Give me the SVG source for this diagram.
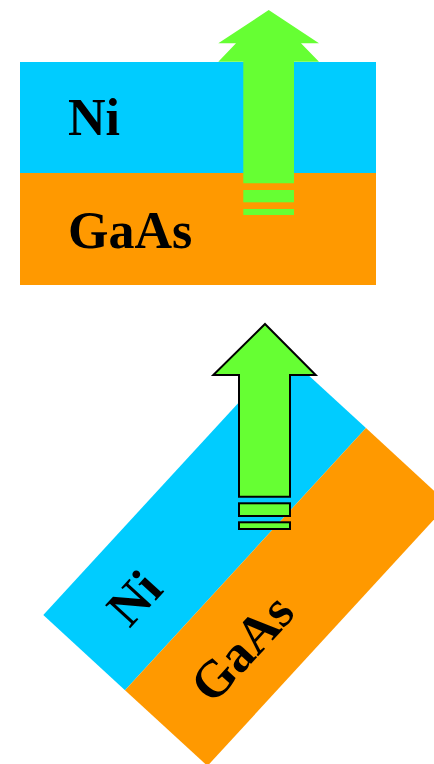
<svg xmlns="http://www.w3.org/2000/svg" width="434" height="764" viewBox="0 0 434 764">
<style>
.ni{fill:#00CCFF}
.ga{fill:#FF9900}
.ar{fill:#66FF33}
.ao{fill:#66FF33;stroke:#000;stroke-width:2}
.lb{font-family:"Liberation Serif","Times New Roman",serif;font-weight:bold;font-size:52px;fill:#000}
</style>
<g id="top-stack">
<rect class="ni" x="20" y="62" width="356" height="111"/>
<rect class="ga" x="20" y="173" width="356" height="112"/>
<text class="lb" x="68" y="135">Ni</text>
<text class="lb" x="68" y="248">GaAs</text>
</g>
<g id="top-arrow">
<polygon class="ar" points="268.7,10 319,43.3 301,43.3 319,61.7 294,61.7 294,183.3 243.3,183.3 243.3,61.7 218.3,61.7 236,43.3 218.3,43.3"/>
<rect class="ar" x="243.3" y="190" width="50.7" height="12.3"/>
<rect class="ar" x="243.3" y="209" width="50.7" height="6"/>
</g>
<g id="bottom-stack" transform="translate(43.3,615) rotate(-47.4)">
<rect class="ni" x="0" y="0" width="356" height="111"/>
<rect class="ga" x="0" y="111" width="356" height="112"/>
<text class="lb" x="48" y="73">Ni</text>
<text class="lb" x="48" y="186">GaAs</text>
</g>
<g id="bottom-arrow">
<polygon class="ao" points="265,324 315.7,375 290,375 290,496.7 239,496.7 239,375 213.3,375"/>
<rect class="ao" x="239" y="503.3" width="51" height="12.7"/>
<rect class="ao" x="239" y="522.3" width="51" height="6.7"/>
</g>
</svg>
